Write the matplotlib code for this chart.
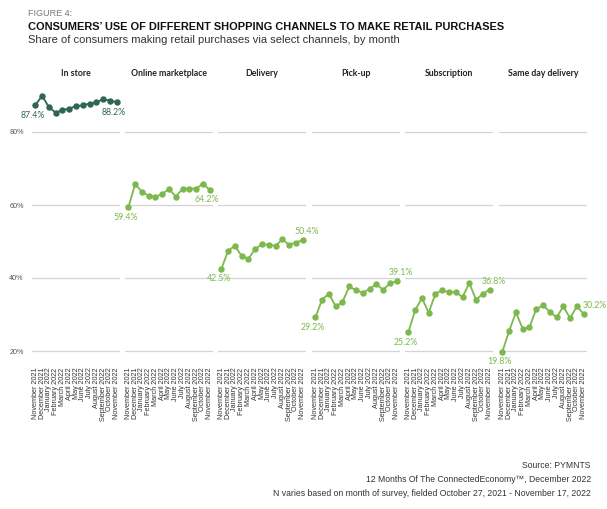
import matplotlib.pyplot as plt

months = ['November 2021', 'December 2021', 'January 2022', 'February 2022',
          'March 2022', 'April 2022', 'May 2022', 'June 2022', 'July 2022',
          'August 2022', 'September 2022', 'October 2022', 'November 2022']

channels = ['In store', 'Online marketplace', 'Delivery', 'Pick-up',
            'Subscription', 'Same day delivery']

in_store = [87.4, 89.9, 86.8, 85.3, 86.0, 86.4, 87.1, 87.3, 87.8, 88.1, 89.0, 88.6, 88.2]
online_marketplace = [59.4, 65.7, 63.6, 62.5, 62.3, 63.0, 64.4, 62.3, 64.4, 64.5, 64.5, 65.8, 64.2]
delivery = [42.5, 47.5, 48.8, 46.0, 45.3, 48.0, 49.2, 49.1, 48.8, 50.6, 49.1, 49.7, 50.4]
pick_up = [29.2, 34.1, 35.7, 32.2, 33.4, 37.7, 36.6, 36.0, 37.0, 38.3, 36.8, 38.5, 39.1]
subscription = [25.2, 31.2, 34.5, 30.5, 35.7, 36.6, 36.1, 36.1, 34.8, 38.6, 34.0, 35.7, 36.8]
same_day = [19.8, 25.5, 30.6, 26.1, 26.5, 31.5, 32.5, 30.8, 29.2, 32.2, 29.0, 32.2, 30.2]

series = [in_store, online_marketplace, delivery, pick_up, subscription, same_day]
# where the last value label goes: below or above the end point
last_label_above = [False, False, True, True, True, True]
last_label_dx = [-2, -2, 3, 3, 3, 8]

dark_green = '#2e6652'
light_green = '#7db84c'

W, H = 607, 509
fig = plt.figure(figsize=(W / 100, H / 100), dpi=100)
plt.rcParams['font.family'] = ['Lato', 'DejaVu Sans']

y_lo, y_hi = 17, 92
px_per_pct = 73 / 20.0
top_px = 132 - (y_hi - 80) * px_per_pct
bot_px = 351 + (20 - y_lo) * px_per_pct

lefts = [32, 125, 218, 312, 405, 499]
panel_w = 88

for i, (name, vals) in enumerate(zip(channels, series)):
    ax = fig.add_axes([lefts[i] / W, 1 - bot_px / H, panel_w / W, (bot_px - top_px) / H])
    ax.set_facecolor('none')
    color = dark_green if i == 0 else light_green
    x = list(range(len(months)))
    ax.plot(x, vals, color=color, lw=1.3, marker='o', ms=3.6, zorder=3, clip_on=False)
    ax.set_xlim(-0.5, len(months) - 0.5)
    ax.set_ylim(y_lo, y_hi)
    ax.set_yticks([20, 40, 60, 80])
    ax.grid(axis='y', color='#d4d4d4', lw=0.9)
    ax.set_axisbelow(True)
    for s in ax.spines.values():
        s.set_visible(False)
    ax.tick_params(length=0)
    ax.set_xticks(x)
    ax.set_xticklabels(months, rotation=90, fontsize=5.2, family='Liberation Sans',
                       color='#333333')
    ax.tick_params(axis='x', pad=4)
    if i == 0:
        ax.set_yticklabels(['20%', '40%', '60%', '80%'], fontsize=5.2,
                           family='Liberation Sans', color='#555555')
        ax.tick_params(axis='y', pad=6)
    else:
        ax.set_yticklabels([])

    ax.annotate(f'{vals[0]:.1f}%', (0, vals[0]), xytext=(-2, -4),
                textcoords='offset points', ha='center', va='top',
                fontsize=6.3, color=color, annotation_clip=False)
    if last_label_above[i]:
        ax.annotate(f'{vals[-1]:.1f}%', (12, vals[-1]), xytext=(last_label_dx[i], 3),
                    textcoords='offset points', ha='center', va='bottom',
                    fontsize=6.3, color=color, annotation_clip=False)
    else:
        ax.annotate(f'{vals[-1]:.1f}%', (12, vals[-1]), xytext=(last_label_dx[i], -4),
                    textcoords='offset points', ha='center', va='top',
                    fontsize=6.3, color=color, annotation_clip=False)

    fig.text((lefts[i] + panel_w / 2) / W, 1 - 73 / H, name, ha='center',
             va='center', fontsize=6.3, fontweight='bold', color='#222222')

fig.text(28 / W, 1 - 14 / H, 'FIGURE 4:', fontsize=6.5, color='#777777',
         family='Liberation Sans', va='center')
fig.text(28 / W, 1 - 27 / H, 'CONSUMERS\u2019 USE OF DIFFERENT SHOPPING CHANNELS TO MAKE RETAIL PURCHASES',
         fontsize=7.9, fontweight='bold', color='#111111', family='Liberation Sans', va='center')
fig.text(28 / W, 1 - 40 / H, 'Share of consumers making retail purchases via select channels, by month',
         fontsize=8.0, color='#333333', family='Liberation Sans', va='center')

source_lines = ['Source: PYMNTS',
                '12 Months Of The ConnectedEconomy\u2122, December 2022',
                'N varies based on month of survey, fielded October 27, 2021 - November 17, 2022']
for j, line in enumerate(source_lines):
    fig.text(591 / W, 1 - (465 + j * 14) / H, line, ha='right', va='center',
             fontsize=6.2, color='#333333', family='Liberation Sans')

fig.savefig('out.png', dpi=100)
